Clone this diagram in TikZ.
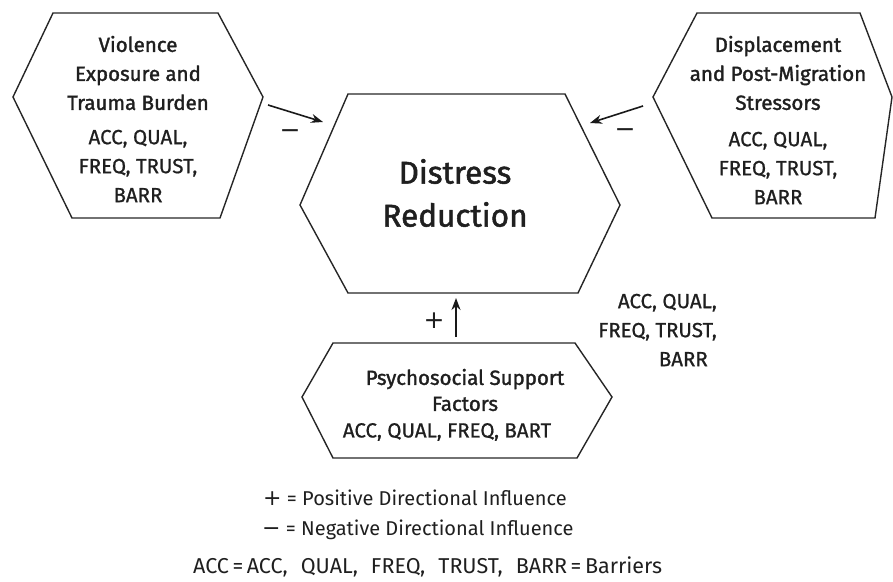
\documentclass[tikz,border=0pt]{standalone}
\usepackage{fontspec}
\setmainfont{Fira Sans}
\newfontfamily\semib{Fira Sans}[RawFeature={embolden=1.6}]
\newfontfamily\medf{Fira Sans}[RawFeature={embolden=0.8}]
\newfontfamily\signf{DejaVu Sans}
\usetikzlibrary{arrows.meta}
\begin{document}
\begin{tikzpicture}[x=1pt,y=-1pt,
  hexline/.style={draw=black!85, line width=1.4pt, line join=miter},
  ttl/.style={font=\semib\fontsize{20.5}{29}\selectfont, align=center, inner sep=0, text=black!88},
  sub/.style={font=\medf\fontsize{20.5}{29}\selectfont, align=center, inner sep=0, text=black!88},
  big/.style={font=\semib\fontsize{31.5}{43}\selectfont, align=center, inner sep=0, text=black!88},
  leg/.style={font=\fontsize{20}{24}\selectfont, inner sep=0, anchor=west, text=black!88},
  conn/.style={line width=1.6pt, draw=black!90, -{Stealth[length=12pt,width=9pt]}},
  sign/.style={font=\signf\fontsize{25}{28}\selectfont, inner sep=0, text=black!88},
]
\useasboundingbox (0,0) rectangle (893,581);
% hexagons
\draw[hexline] (53,13) -- (218,13) -- (263,97) -- (220,218) -- (72,218) -- (13,97) -- cycle;
\draw[hexline] (697,13) -- (860,13) -- (892,97) -- (875,218) -- (712,218) -- (653,97) -- cycle;
\draw[hexline] (348,94) -- (565,94) -- (620,205) -- (578,293) -- (348,293) -- (300,205) -- cycle;
\draw[hexline] (333,343) -- (575,343) -- (612,397) -- (577,458) -- (333,458) -- (302,397) -- cycle;
% texts
\node[ttl] (vt) at (138,73) {Violence\\Exposure and\\Trauma Burden};
\node[sub] (vs) at (138,166) {ACC, QUAL,\\FREQ, TRUST,\\BARR};
\node[ttl] (dt) at (778,73) {Displacement\\and Post-Migration\\Stressors};
\node[sub] (ds) at (778,168) {ACC, QUAL,\\FREQ, TRUST,\\BARR};
\node[big] (dr) at (455,193) {Distress\\Reduction};
\node[ttl, font=\semib\fontsize{20.5}{26}\selectfont] (pt) at (465,390) {Psychosocial Support\\Factors};
\node[sub] (ps) at (447,432) {ACC, QUAL, FREQ, BART};
\node[sub, align=right, anchor=east] (fl) at (717,330) {ACC, QUAL,\\FREQ, TRUST,\\BARR\hspace*{9pt}};
% arrows
\coordinate (a1s) at (268,105); \coordinate (a1e) at (323,122);
\coordinate (a2s) at (643,106); \coordinate (a2e) at (590,123);
\coordinate (a3s) at (456,337); \coordinate (a3e) at (456,298);
\draw[conn] (a1s) -- (a1e);
\draw[conn] (a2s) -- (a2e);
\draw[conn] (a3s) -- (a3e);
\node[sign] (m1) at (290,134) {−};
\node[sign] (m2) at (625,133) {−};
\node[sign] (p1) at (434,321) {+};
% legend
\node[leg] (l1) at (263,498) {{\signf\fontsize{22}{24}\selectfont +} = Positive Directional Influence};
\node[leg] (l2) at (262,530) {{\signf\fontsize{22}{24}\selectfont −} = Negative Directional Influence};
\node[leg, font=\fontsize{21.5}{24}\selectfont] (l3) at (193,567) {\hbox to 469pt{ACC\,=\,ACC,\hfil QUAL,\hfil FREQ,\hfil TRUST,\hfil BARR\,=\,Barriers}};
\end{tikzpicture}
\end{document}
